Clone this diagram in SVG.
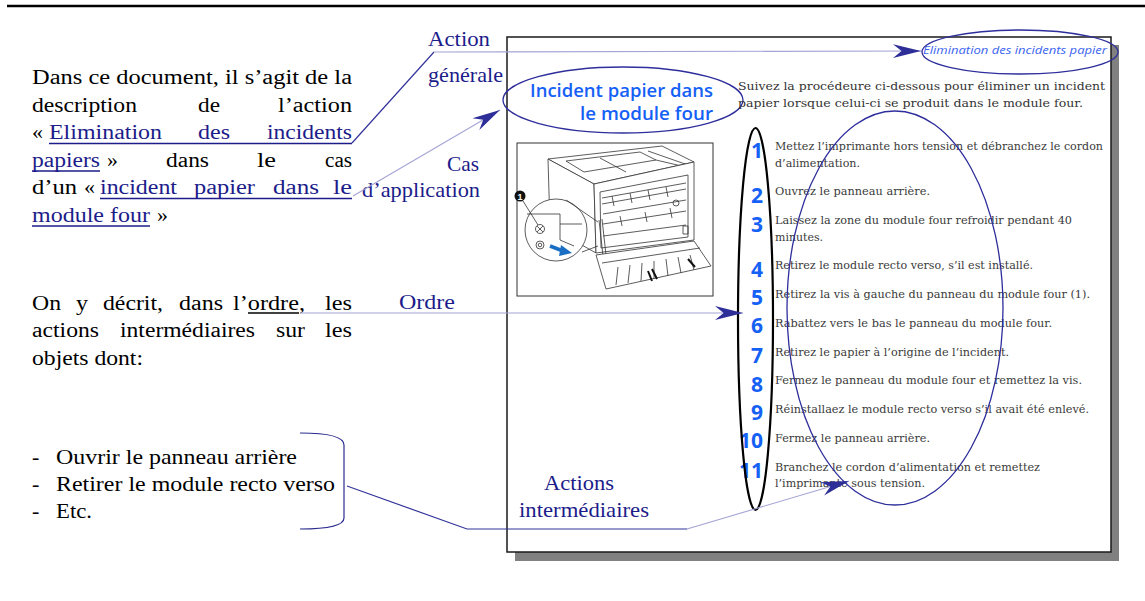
<svg xmlns="http://www.w3.org/2000/svg" width="1145" height="601" viewBox="0 0 1145 601">
  <style>
    .body { font-family: "Liberation Serif", "Times New Roman", serif; font-size: 20px; fill: #000; }
    .link { fill: #1c1c8a; }
    .ul { stroke: #1c1c8a; stroke-width: 1.5; }
    .list { font-family: "Liberation Serif", "Times New Roman", serif; font-size: 22px; fill: #000; }
    .label { font-family: "Liberation Serif", "Times New Roman", serif; font-size: 22px; fill: #1c1c8a; }
    .title { font-family: "Open Sans", "Noto Sans", sans-serif; font-weight: 600; font-size: 18px; fill: #1560f5; }
    .head { font-family: "Open Sans", "Noto Sans", sans-serif; font-style: italic; font-size: 11.5px; fill: #3a64f0; }
    .doc { font-family: "DejaVu Serif", "Liberation Serif", serif; font-size: 11px; fill: #333; }
    .step { font-family: "DejaVu Serif", "Liberation Serif", serif; font-size: 11px; fill: #3a3a3a; }
    .num { font-family: "Open Sans", "Noto Sans", sans-serif; font-weight: 700; font-size: 21px; fill: #1560f5; text-anchor: end; }
    .ring { fill: none; stroke: #2e2e9c; stroke-width: 1.3; }
    .dark { fill: none; stroke: #34349c; stroke-width: 1.2; }
    .light { fill: none; stroke: #a4a4d6; stroke-width: 1.1; }
    .art { fill: none; stroke: #333; stroke-width: 0.8; stroke-linejoin: round; }
    .artw { fill: #fff; stroke: #333; stroke-width: 0.8; stroke-linejoin: round; }
  </style>
  <defs>
    <marker id="stealth" markerUnits="userSpaceOnUse" markerWidth="28" markerHeight="16" viewBox="0 0 26 14" refX="26" refY="7" orient="auto">
      <path d="M26,7 L0,0.6 L8,7 L0,13.4 Z" fill="#2e2e98"/>
    </marker>
  </defs>

  <rect width="1145" height="601" fill="#fff"/>

  <!-- heading rule -->
  <g id="rule">
    <line x1="7" y1="6" x2="1145" y2="6" stroke="#000" stroke-width="2.6"/>
  </g>

  <!-- first paragraph (justified) -->
  <g id="intro" class="body">
    <text x="32" y="84" textLength="320" lengthAdjust="spacingAndGlyphs">Dans ce document, il s’agit de la</text>
    <text x="32" y="111.5" textLength="105" lengthAdjust="spacingAndGlyphs">description</text>
    <text x="198" y="111.5" textLength="22" lengthAdjust="spacingAndGlyphs">de</text>
    <text x="278" y="111.5" textLength="74" lengthAdjust="spacingAndGlyphs">l’action</text>
    <text x="32" y="139" textLength="11" lengthAdjust="spacingAndGlyphs">«</text>
    <text class="link" x="49" y="139" textLength="113" lengthAdjust="spacingAndGlyphs">Elimination</text>
    <text class="link" x="198" y="139" textLength="32" lengthAdjust="spacingAndGlyphs">des</text>
    <text class="link" x="267" y="139" textLength="85" lengthAdjust="spacingAndGlyphs">incidents</text>
    <line class="ul" x1="49" y1="143.5" x2="352" y2="143.5"/>
    <text class="link" x="32" y="166.5" textLength="68" lengthAdjust="spacingAndGlyphs">papiers</text>
    <line class="ul" x1="32" y1="171" x2="100" y2="171"/>
    <text x="107" y="166.5" textLength="11" lengthAdjust="spacingAndGlyphs">»</text>
    <text x="166" y="166.5" textLength="43" lengthAdjust="spacingAndGlyphs">dans</text>
    <text x="257" y="166.5" textLength="19" lengthAdjust="spacingAndGlyphs">le</text>
    <text x="325" y="166.5" textLength="27" lengthAdjust="spacingAndGlyphs">cas</text>
    <text x="32" y="194" textLength="45" lengthAdjust="spacingAndGlyphs">d’un</text>
    <text x="84" y="194" textLength="11" lengthAdjust="spacingAndGlyphs">«</text>
    <text class="link" x="100" y="194" textLength="77" lengthAdjust="spacingAndGlyphs">incident</text>
    <text class="link" x="194" y="194" textLength="61" lengthAdjust="spacingAndGlyphs">papier</text>
    <text class="link" x="273" y="194" textLength="46" lengthAdjust="spacingAndGlyphs">dans</text>
    <text class="link" x="333" y="194" textLength="19" lengthAdjust="spacingAndGlyphs">le</text>
    <line class="ul" x1="100" y1="198.5" x2="352" y2="198.5"/>
    <text class="link" x="32" y="221.5" textLength="118" lengthAdjust="spacingAndGlyphs">module four</text>
    <line class="ul" x1="32" y1="226" x2="150" y2="226"/>
    <text x="157" y="221.5" textLength="11" lengthAdjust="spacingAndGlyphs">»</text>
  </g>

  <!-- second paragraph -->
  <g id="order-text" class="body">
    <text x="32" y="309.5" textLength="29" lengthAdjust="spacingAndGlyphs">On</text>
    <text x="76" y="309.5" textLength="12" lengthAdjust="spacingAndGlyphs">y</text>
    <text x="103" y="309.5" textLength="60" lengthAdjust="spacingAndGlyphs">décrit,</text>
    <text x="179" y="309.5" textLength="44" lengthAdjust="spacingAndGlyphs">dans</text>
    <text x="233" y="309.5" textLength="72" lengthAdjust="spacingAndGlyphs">l’ordre,</text>
    <line x1="248" y1="313" x2="299" y2="313" stroke="#000" stroke-width="1.5"/>
    <text x="325" y="309.5" textLength="27" lengthAdjust="spacingAndGlyphs">les</text>
    <text x="32" y="337" textLength="67" lengthAdjust="spacingAndGlyphs">actions</text>
    <text x="120" y="337" textLength="135" lengthAdjust="spacingAndGlyphs">intermédiaires</text>
    <text x="276" y="337" textLength="29" lengthAdjust="spacingAndGlyphs">sur</text>
    <text x="325" y="337" textLength="27" lengthAdjust="spacingAndGlyphs">les</text>
    <text x="32" y="364.5" textLength="111" lengthAdjust="spacingAndGlyphs">objets dont:</text>
  </g>

  <!-- list of intermediate actions with its bracket -->
  <g id="action-list" class="list">
    <text x="32" y="464">-</text>
    <text x="56" y="464" textLength="241" lengthAdjust="spacingAndGlyphs">Ouvrir le panneau arrière</text>
    <text x="32" y="491">-</text>
    <text x="56" y="491" textLength="279" lengthAdjust="spacingAndGlyphs">Retirer le module recto verso</text>
    <text x="32" y="518">-</text>
    <text x="56" y="518" textLength="36" lengthAdjust="spacingAndGlyphs">Etc.</text>
    <path d="M300,433 C326,433 344,436 344,445 L344,518 C344,526 326,529 300,529" fill="none" stroke="#2c2c90" stroke-width="1.2"/>
  </g>

  <!-- document page -->
  <g id="page">
    <rect x="515" y="45" width="604" height="516" fill="#808080"/>
    <rect x="507" y="37" width="604" height="515" fill="#fff" stroke="#1a1a1a" stroke-width="1.5"/>
  </g>

  <g id="page-header">
    <text class="head" x="923" y="54" textLength="184" lengthAdjust="spacingAndGlyphs">Elimination des incidents papier</text>
    <ellipse class="ring" cx="1020" cy="52" rx="98" ry="22"/>
  </g>

  <g id="page-title">
    <text class="title" x="530" y="97" textLength="183" lengthAdjust="spacingAndGlyphs">Incident papier dans</text>
    <text class="title" x="580" y="120" textLength="133" lengthAdjust="spacingAndGlyphs">le module four</text>
    <ellipse class="ring" cx="623" cy="100" rx="120" ry="33"/>
  </g>

  <g id="page-intro" class="doc">
    <text x="738" y="90" textLength="367" lengthAdjust="spacingAndGlyphs">Suivez la procédeure ci-dessous pour éliminer un incident</text>
    <text x="738" y="107" textLength="345" lengthAdjust="spacingAndGlyphs">papier lorsque celui-ci se produit dans le module four.</text>
  </g>

  <!-- printer illustration -->
  <g id="printer">
    <rect x="517" y="143" width="196" height="153" fill="#fff" stroke="#333" stroke-width="1"/>
    <!-- lid and body -->
    <path class="artw" d="M548,159 L662,146 L694,162 L594,184 Z"/>
    <path class="art" d="M566,161 L640,152 L656,160 L584,172 Z M600,158 L626,172 M648,151 L688,165 M656,160 L690,168"/>
    <path class="artw" d="M548,159 L594,184 L596,253 L550,227 Z"/>
    <path class="artw" d="M594,184 L694,162 L694,240 L596,253 Z"/>
    <!-- rear opening with rollers -->
    <path class="art" d="M600,192 L688,175 L688,237 L601,248 Z"/>
    <path class="art" d="M602,198 L686,183 M602,204 L686,189 M603,214 L686,200 M603,224 L686,211 M603,236 L686,225"/>
    <path class="art" d="M612,196 L614,206 M630,193 L632,203 M648,190 L650,200 M666,187 L668,197 M620,216 L622,226 M645,212 L647,222 M670,208 L672,218"/>
    <circle class="art" cx="676" cy="203" r="3"/>
    <rect class="art" x="683" y="226" width="5" height="8"/>
    <!-- struts -->
    <path class="art" d="M599,220 L606,283 M602,219 L609,282"/>
    <!-- open rear door -->
    <path class="artw" d="M596,255 L694,241 L711,266 L606,289 Z"/>
    <path class="art" d="M602,263 L700,248 M618,267 L616,285 M630,265 L628,283 M642,263 L641,281 M654,261 L654,279 M666,259 L668,276 M678,257 L681,273 M690,255 L694,270"/>
    <path d="M648,271 L652,281 M652,269 L657,279 M688,259 L695,267" stroke="#111" stroke-width="2"/>
    <!-- magnified detail -->
    <circle class="artw" cx="556" cy="230" r="31"/>
    <path class="art" d="M527,214 L560,214 L560,240 L574,246 M560,224 L582,224"/>
    <circle class="art" cx="540" cy="229" r="4.5"/>
    <path class="art" d="M537,226 L543,232 M543,226 L537,232"/>
    <circle class="art" cx="540" cy="245" r="4"/>
    <circle class="art" cx="540" cy="245" r="1.8"/>
    <path d="M550,246 L563,251" stroke="#1a6fc4" stroke-width="3.5"/>
    <path d="M561,245 L572,253 L559,256 Z" fill="#1a6fc4"/>
    <path class="art" d="M566,200 L598,222 M582,252 L598,246"/>
    <!-- callout number -->
    <line class="art" x1="523" y1="201" x2="538" y2="225"/>
    <circle cx="520" cy="196" r="5.5" fill="#111"/>
    <text x="520" y="199.5" font-family="Liberation Sans, Arial, sans-serif" font-size="9" font-weight="700" fill="#fff" text-anchor="middle">1</text>
  </g>

  <!-- numbered steps -->
  <g id="step-numbers" class="num">
    <text x="763" y="158">1</text>
    <text x="763" y="203">2</text>
    <text x="763" y="232">3</text>
    <text x="763" y="277">4</text>
    <text x="763" y="305">5</text>
    <text x="763" y="333">6</text>
    <text x="763" y="363">7</text>
    <text x="763" y="392">8</text>
    <text x="763" y="420">9</text>
    <text x="763" y="448">10</text>
    <text x="763" y="478">11</text>
  </g>

  <g id="step-texts" class="step">
    <text x="775" y="150" textLength="328" lengthAdjust="spacingAndGlyphs">Mettez l’imprimante hors tension et débranchez le cordon</text>
    <text x="775" y="167" textLength="85" lengthAdjust="spacingAndGlyphs">d’alimentation.</text>
    <text x="775" y="195" textLength="155" lengthAdjust="spacingAndGlyphs">Ouvrez le panneau arrière.</text>
    <text x="775" y="224" textLength="297" lengthAdjust="spacingAndGlyphs">Laissez la zone du module four refroidir pendant 40</text>
    <text x="775" y="241" textLength="48" lengthAdjust="spacingAndGlyphs">minutes.</text>
    <text x="775" y="269" textLength="258" lengthAdjust="spacingAndGlyphs">Retirez le module recto verso, s’il est installé.</text>
    <text x="775" y="298" textLength="315" lengthAdjust="spacingAndGlyphs">Retirez la vis à gauche du panneau du module four (1).</text>
    <text x="775" y="327" textLength="277" lengthAdjust="spacingAndGlyphs">Rabattez vers le bas le panneau du module four.</text>
    <text x="775" y="356" textLength="234" lengthAdjust="spacingAndGlyphs">Retirez le papier à l’origine de l’incident.</text>
    <text x="775" y="384" textLength="307" lengthAdjust="spacingAndGlyphs">Fermez le panneau du module four et remettez la vis.</text>
    <text x="775" y="413" textLength="314" lengthAdjust="spacingAndGlyphs">Réinstallaez le module recto verso s’il avait été enlevé.</text>
    <text x="775" y="442" textLength="155" lengthAdjust="spacingAndGlyphs">Fermez le panneau arrière.</text>
    <text x="775" y="471" textLength="265" lengthAdjust="spacingAndGlyphs">Branchez le cordon d’alimentation et remettez</text>
    <text x="775" y="487" textLength="150" lengthAdjust="spacingAndGlyphs">l’imprimante sous tension.</text>
  </g>

  <g id="step-rings">
    <ellipse cx="755.5" cy="319" rx="17.5" ry="191" fill="none" stroke="#000" stroke-width="2.2"/>
    <ellipse class="ring" cx="895" cy="308" rx="108" ry="197" stroke-width="1.2"/>
  </g>

  <!-- annotation labels -->
  <g id="labels" class="label">
    <text x="428" y="46" textLength="62" lengthAdjust="spacingAndGlyphs">Action</text>
    <text x="428" y="82" textLength="75" lengthAdjust="spacingAndGlyphs">générale</text>
    <text x="447" y="171" textLength="32" lengthAdjust="spacingAndGlyphs">Cas</text>
    <text x="362" y="197" textLength="118" lengthAdjust="spacingAndGlyphs">d’application</text>
    <text x="399" y="309" textLength="56" lengthAdjust="spacingAndGlyphs">Ordre</text>
    <text x="544" y="490" textLength="70" lengthAdjust="spacingAndGlyphs">Actions</text>
    <text x="519" y="517" textLength="130" lengthAdjust="spacingAndGlyphs">intermédiaires</text>
  </g>

  <!-- connectors -->
  <g id="connectors">
    <path class="dark" d="M352,143 L434,52"/>
    <path class="light" d="M434,52 L921,51" marker-end="url(#stealth)"/>
    <path class="light" d="M353,196 L500,110" marker-end="url(#stealth)"/>
    <path class="light" d="M300,313 L743,313" marker-end="url(#stealth)"/>
    <path class="dark" d="M347,486 L467,529 L687,529"/>
    <path class="light" d="M687,529 L849,481" marker-end="url(#stealth)"/>
  </g>
</svg>
